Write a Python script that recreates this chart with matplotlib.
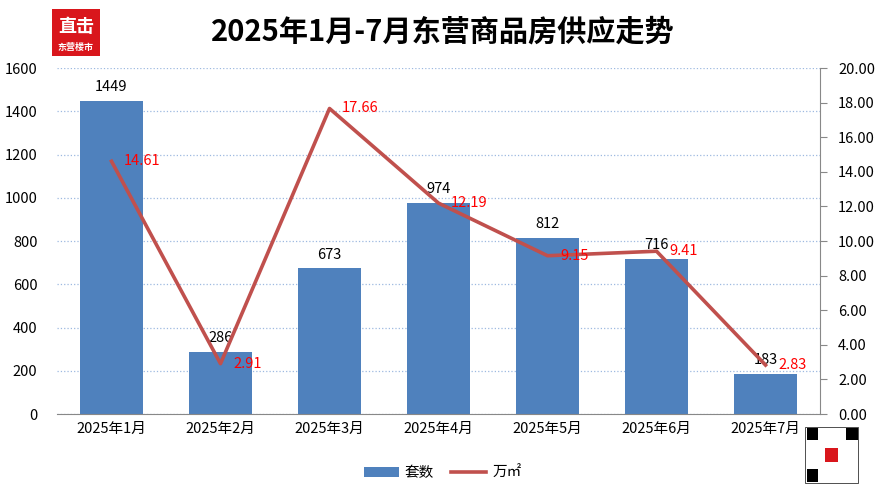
import matplotlib.pyplot as plt
from matplotlib.patches import Rectangle, Patch
from matplotlib.lines import Line2D

plt.rcParams['font.family'] = ['Noto Sans CJK SC', 'DejaVu Sans']

months = ['2025年1月', '2025年2月', '2025年3月', '2025年4月', '2025年5月', '2025年6月', '2025年7月']
units = [1449, 286, 673, 974, 812, 716, 183]
area = [14.61, 2.91, 17.66, 12.19, 9.15, 9.41, 2.83]

bar_color = '#4F81BD'
line_color = '#C0504D'

fig = plt.figure(figsize=(8.85, 4.95), dpi=100)
ax = fig.add_axes([0.0644, 0.1636, 0.8622, 0.699])
ax2 = ax.twinx()

x = list(range(len(months)))
ax.bar(x, units, width=0.57, color=bar_color, zorder=2)
for xi, v in zip(x, units):
    ax.annotate(str(v), (xi, v), xytext=(0, 5), textcoords='offset points',
                ha='center', va='bottom', fontsize=10.5, color='black')

ax.set_xlim(-0.5, len(months) - 0.5)
ax.set_ylim(0, 1600)
ax.set_yticks(range(0, 1601, 200))
ax.grid(axis='y', color='#9DB9E0', linestyle=':', linewidth=0.9, zorder=0)
ax.set_axisbelow(True)
for s in ['top', 'left', 'right']:
    ax.spines[s].set_visible(False)
ax.spines['bottom'].set_color('#888888')
ax.tick_params(axis='y', length=0, labelsize=10.5, pad=14)
ax.tick_params(axis='x', length=0, labelsize=10.5, pad=6)
ax.set_xticks(x)
ax.set_xticklabels(months)

ax2.plot(x, area, color=line_color, linewidth=2.6, zorder=3)
for xi, v in zip(x, area):
    ax2.annotate(f'{v:.2f}', (xi, v), xytext=(9, 0), textcoords='offset points',
                 ha='left', va='center', fontsize=10.5, color='red')
ax2.set_ylim(0, 20)
ax2.set_yticks(range(0, 21, 2))
ax2.set_yticklabels([f'{t:.2f}' for t in range(0, 21, 2)])
for s in ['top', 'left', 'bottom']:
    ax2.spines[s].set_visible(False)
ax2.spines['right'].set_color('#888888')
ax2.tick_params(axis='y', direction='out', length=5, color='#888888', labelsize=10.5, pad=8)

fig.text(0.5, 0.937, '2025年1月-7月东营商品房供应走势', ha='center', va='center',
         fontsize=21, fontweight='bold')

# logo
lx, ly, lw, lh = 0.0588, 0.887, 0.054, 0.095
fig.patches.append(Rectangle((lx, ly), lw, lh, transform=fig.transFigure,
                             facecolor='#D9161C', edgecolor='none'))
fig.text(lx + lw / 2, ly + lh * 0.62, '直击', ha='center', va='center', color='white',
         fontsize=13, fontweight='bold')
fig.text(lx + lw / 2, ly + lh * 0.18, '东营楼市', ha='center', va='center', color='white',
         fontsize=6.5, fontweight='bold')

# qr placeholder
qx, qy, qw, qh = 0.9096, 0.024, 0.06, 0.113
fig.patches.append(Rectangle((qx, qy), qw, qh, transform=fig.transFigure,
                             facecolor='white', edgecolor='#333333', linewidth=0.6))
for fx, fy in [(qx, qy + qh * 0.74), (qx + qw * 0.74, qy + qh * 0.74), (qx, qy)]:
    fig.patches.append(Rectangle((fx + 0.002, fy + 0.003), qw * 0.22, qh * 0.22,
                                 transform=fig.transFigure, facecolor='black', edgecolor='none'))
fig.patches.append(Rectangle((qx + qw * 0.38, qy + qh * 0.38), qw * 0.24, qh * 0.24,
                             transform=fig.transFigure, facecolor='#D9161C', edgecolor='none'))

handles = [Patch(facecolor=bar_color, edgecolor='none'),
           Line2D([0], [0], color=line_color, linewidth=2.6)]
fig.legend(handles, ['套数', '万㎡'], loc='center', bbox_to_anchor=(0.5, 0.045),
           ncol=2, frameon=False, fontsize=10.5, handlelength=2.4, handletextpad=0.4,
           columnspacing=1.2)

plt.savefig('out.png', dpi=100)
plt.close()
